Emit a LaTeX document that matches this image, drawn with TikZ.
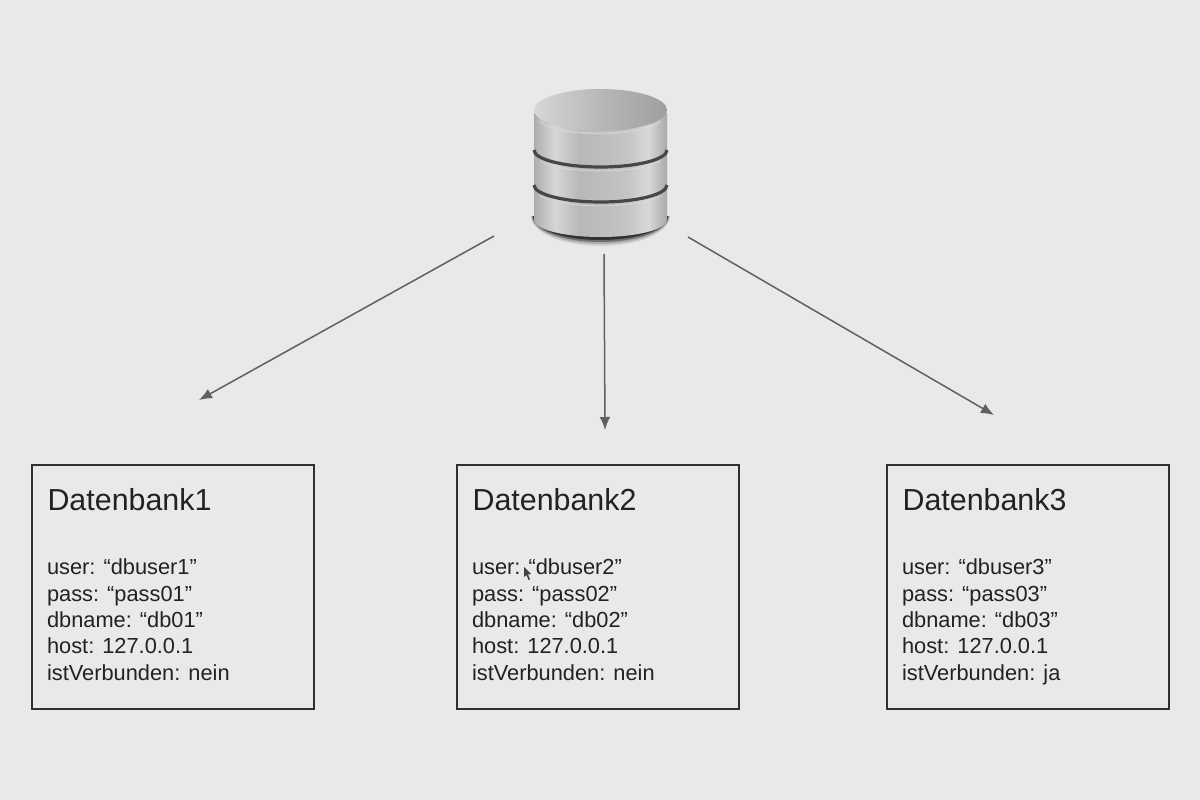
\documentclass[tikz,border=0pt]{standalone}
\usepackage{fontspec}
\setmainfont{Liberation Sans}
\usetikzlibrary{arrows.meta,positioning,calc}
\definecolor{BGCOLOR}{HTML}{E9E9E9}
\definecolor{BOXCOLOR}{HTML}{303030}
\definecolor{TEXTCOLOR}{HTML}{222222}
\definecolor{ARROWCOLOR}{HTML}{606060}
\pgfdeclarehorizontalshading{dbside}{100bp}{
  rgb(0bp)=(.68,.68,.68);
  rgb(25bp)=(.68,.68,.68);
  rgb(33bp)=(.84,.84,.84);
  rgb(42bp)=(.72,.72,.72);
  rgb(50bp)=(.74,.74,.74);
  rgb(60bp)=(.77,.77,.77);
  rgb(68bp)=(.85,.85,.85);
  rgb(75bp)=(.66,.66,.66);
  rgb(100bp)=(.66,.66,.66)}
\pgfdeclarehorizontalshading{dbtop}{100bp}{
  rgb(0bp)=(.84,.84,.84);
  rgb(25bp)=(.84,.84,.84);
  rgb(50bp)=(.72,.72,.72);
  rgb(75bp)=(.62,.62,.62);
  rgb(100bp)=(.62,.62,.62)}
\tikzset{
  box-style/.style = {
    rectangle, draw=BOXCOLOR, line width=1.3pt,
    minimum width=282pt, minimum height=244pt,
    inner sep=0pt
  },
  title-style/.style = {
    inner sep=0pt, anchor=base west, text=TEXTCOLOR,
    font=\fontsize{30.4pt}{34pt}\selectfont
  },
  info-style/.style = {
    inner sep=0pt, anchor=north west, align=left, text=TEXTCOLOR,
    font=\fontsize{21.8pt}{26.3pt}\selectfont
  },
  arrow-style/.style = {
    draw=ARROWCOLOR, line width=1.5pt,
    -{Latex[length=13pt,width=10.5pt]}
  },
  band-style/.style = {
    draw=black!72, line width=3.2pt
  },
  shine-style/.style = {
    draw=white!85!black, line width=1pt, opacity=0.7
  }
}
\def\createBase name:#1 display:#2 user:#3 pass:#4 db:#5 state:#6 at:#7;{
  \node [box-style] (#1) at (#7) {};
  \node [title-style] (#1title) at ($(#1.north west)+(16,46)$) {#2};
  \node [info-style] (#1info) at ($(#1.north west)+(15.5,94.5)$)
    {user: “#3”\\pass: “#4”\\dbname: “#5”\\host: 127.0.0.1\\istVerbunden: #6};
}
\begin{document}
\begin{tikzpicture}[x=1pt,y=-1pt]
  \path[use as bounding box,fill=BGCOLOR] (0,0) rectangle (1200,800);

  % database
  \foreach \grow/\op in {9/0.10,7/0.18,5/0.35,3/0.55} {
    \fill[black,opacity=\op] (534-\grow/3,216)
      arc[start angle=180,end angle=0,x radius=66.5+\grow/3,y radius=21+\grow]
      -- cycle;
  }
  \shade[shading=dbside] (534,113) -- (534,220)
    arc[start angle=180,end angle=0,x radius=66.5,y radius=17]
    -- (667,113) -- cycle;
  \shade[shading=dbtop] (600.5,110) ellipse[x radius=66.5,y radius=21];
  \draw[shine-style,line width=1.5pt] (540,121)
    arc[start angle=170,end angle=10,x radius=61,y radius=15];
  \draw[band-style] (534,150) arc[start angle=180,end angle=0,x radius=66.5,y radius=17];
  \draw[band-style] (534,185) arc[start angle=180,end angle=0,x radius=66.5,y radius=17];
  \draw[shine-style] (540,161) arc[start angle=160,end angle=20,x radius=64,y radius=15];
  \draw[shine-style] (540,196) arc[start angle=160,end angle=20,x radius=64,y radius=15];

  \coordinate (dbleft) at (494,236);
  \coordinate (dbmid) at (604,254);
  \coordinate (dbright) at (688,237);
  \coordinate (toleft) at (199,400);
  \coordinate (tomid) at (605,430);
  \coordinate (toright) at (994,415);
  \draw[arrow-style] (dbleft) -- (toleft);
  \draw[arrow-style] (dbmid) -- (tomid);
  \draw[arrow-style] (dbright) -- (toright);

  \createBase name:dbone display:Datenbank1 user:dbuser1 pass:pass01 db:db01 state:nein at:173,587;
  \createBase name:dbtwo display:Datenbank2 user:dbuser2 pass:pass02 db:db02 state:nein at:598,587;
  \createBase name:dbthree display:Datenbank3 user:dbuser3 pass:pass03 db:db03 state:ja at:1028,587;

  % mouse pointer
  \fill[black!75] (524,567) -- (524,577) -- (526.5,575) -- (528.5,580) -- (530,579.3) -- (528,574.5) -- (531,574) -- cycle;
\end{tikzpicture}
\end{document}
